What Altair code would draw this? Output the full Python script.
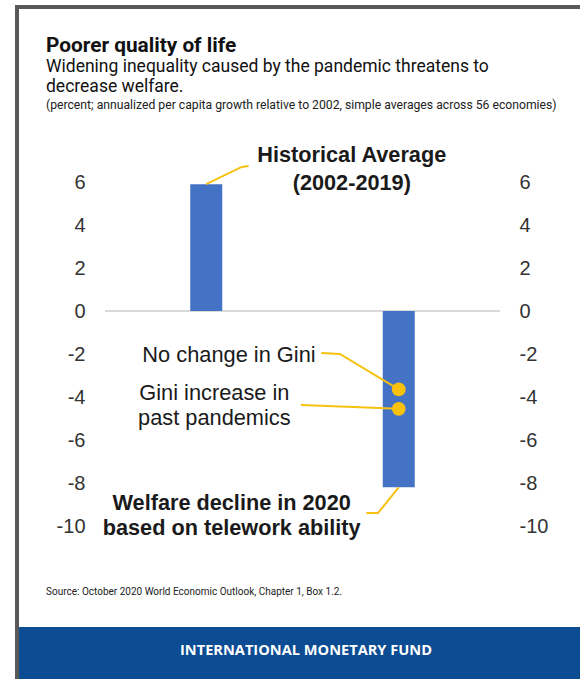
import altair as alt
import pandas as pd

# ---- data ----
bar_pos = [2.5, 7.5]
bar_values = [5.9, -8.2]
dot_values = [-3.65, -4.55]
y_ticks = [-10, -8, -6, -4, -2, 0, 2, 4, 6]

TITLE = "Poorer quality of life"
SUBTITLE = ["Widening inequality caused by the pandemic threatens to", "decrease welfare."]
NOTE = "(percent; annualized per capita growth relative to 2002, simple averages across 56 economies)"
SOURCE = "Source: October 2020 World Economic Outlook, Chapter 1, Box 1.2."
FOOTER = "INTERNATIONAL MONETARY FUND"

bold_labels = ["Historical Average", "(2002-2019)", "Welfare decline in 2020", "based on telework ability"]
bold_x = [6.28, 6.28, 3.16, 3.16]
bold_y = [7.26, 5.95, -8.93, -10.09]

reg_labels = ["No change in Gini", "Gini increase in", "past pandemics"]
reg_x = [3.09, 2.71, 2.71]
reg_y = [-2.05, -3.81, -4.98]

# leader lines (annotation connectors)
lead_id = [1, 1, 1, 2, 2, 2, 3, 3, 4, 4, 4]
lead_ord = [0, 1, 2, 0, 1, 2, 0, 1, 0, 1, 2]
lead_x = [2.5, 3.42, 3.6, 5.49, 5.97, 7.5, 4.96, 7.5, 7.5, 6.96, 6.66]
lead_y = [5.9, 6.7, 6.74, -1.95, -2.0, -3.65, -4.37, -4.55, -8.2, -9.4, -9.4]

BLUE = "#4472c4"
GOLD = "#f7c10e"
ANN_FONT = "Liberation Sans"
HDR_FONT = "Roboto"

xs = alt.Scale(domain=[0, 10], nice=False, zero=False)
ys = alt.Scale(domain=[-10, 6], nice=False, zero=False)

bars_df = pd.DataFrame({"pos": bar_pos, "value": bar_values})
dots_df = pd.DataFrame({"pos": [bar_pos[1]] * len(dot_values), "value": dot_values})
bold_df = pd.DataFrame({"x": bold_x, "y": bold_y, "t": bold_labels})
reg_df = pd.DataFrame({"x": reg_x, "y": reg_y, "t": reg_labels})
lead_df = pd.DataFrame({"id": lead_id, "o": lead_ord, "x": lead_x, "y": lead_y})
one = pd.DataFrame({"a": [0]})

left_axis = alt.Axis(values=y_ticks, orient="left", ticks=False, domain=False, grid=False,
                     labelFont=ANN_FONT, labelFontSize=20, labelColor="#333333",
                     labelPadding=20, title=None, labelExpr="'' + datum.value")
right_axis = alt.Axis(values=y_ticks, orient="right", ticks=False, domain=False, grid=False,
                      labelFont=ANN_FONT, labelFontSize=20, labelColor="#333333",
                      labelPadding=19, title=None, labelExpr="'' + datum.value")

zero = alt.Chart(one).mark_rule(color="#d9d9d9", strokeWidth=2).encode(
    x=alt.value(0), x2=alt.value(395),
    y=alt.Y("a:Q", scale=ys, axis=right_axis),
)

bars = alt.Chart(bars_df).mark_bar(size=32, color=BLUE, orient="vertical").encode(
    x=alt.X("pos:Q", scale=xs, axis=None),
    y=alt.Y("value:Q", scale=ys, axis=left_axis),
)

leads = alt.Chart(lead_df).mark_line(color=GOLD, strokeWidth=2).encode(
    x=alt.X("x:Q", scale=xs, axis=None),
    y=alt.Y("y:Q", scale=ys, axis=None),
    detail="id:N",
    order="o:Q",
)

dots = alt.Chart(dots_df).mark_circle(size=190, color=GOLD, opacity=1).encode(
    x=alt.X("pos:Q", scale=xs, axis=None),
    y=alt.Y("value:Q", scale=ys, axis=None),
)

bold_txt = alt.Chart(bold_df).mark_text(font=ANN_FONT, fontSize=21.7, fontWeight="bold",
                                        color="#1a1a1a", align="center", baseline="middle").encode(
    x=alt.X("x:Q", scale=xs, axis=None),
    y=alt.Y("y:Q", scale=ys, axis=None),
    text="t:N",
)

reg_txt = alt.Chart(reg_df).mark_text(font=ANN_FONT, fontSize=21.8, color="#1a1a1a",
                                      align="center", baseline="middle").encode(
    x=alt.X("x:Q", scale=xs, axis=None),
    y=alt.Y("y:Q", scale=ys, axis=None),
    text="t:N",
)

def deco_rect(x, x2, y, y2, color):
    return alt.Chart(one).mark_rect(color=color).encode(
        x=alt.value(x), x2=alt.value(x2), y=alt.value(y), y2=alt.value(y2))

def deco_text(s, x, y, size, weight="normal", color="#111111", align="left", font=HDR_FONT):
    return alt.Chart(one).mark_text(font=font, fontSize=size, fontWeight=weight, color=color,
                                    align=align, baseline="middle").encode(
        x=alt.value(x), y=alt.value(y), text=alt.value(s))

band = deco_rect(-86, 475, 445, 497, "#0b4c92")
border_l = deco_rect(-90, -86, -177, 497, "#595959")
border_t = deco_rect(-90, 475, -177, -173, "#595959")

hdr = [
    deco_text(TITLE, -59, -136, 20.8, "bold"),
    deco_text(SUBTITLE[0], -59, -115, 17.5),
    deco_text(SUBTITLE[1], -59, -95, 17.5),
    deco_text(NOTE, -59, -77, 12.2, color="#222222"),
    deco_text(SOURCE, -59, 410, 10, color="#222222"),
    deco_text(FOOTER, 201, 469, 14.6, "bold", color="#ffffff", align="center", font="Open Sans"),
]

chart = alt.layer(
    band, border_l, border_t, zero, bars, leads, dots, bold_txt, reg_txt, *hdr
).resolve_axis(y="independent").properties(
    width=395, height=344,
    padding={"left": 105, "top": 182, "right": 80, "bottom": 153},
    autosize=alt.AutoSizeParams(type="none"),
    background="white",
).configure_view(stroke=None)

chart.save("out.html", embed_options={"renderer": "svg", "actions": False})
